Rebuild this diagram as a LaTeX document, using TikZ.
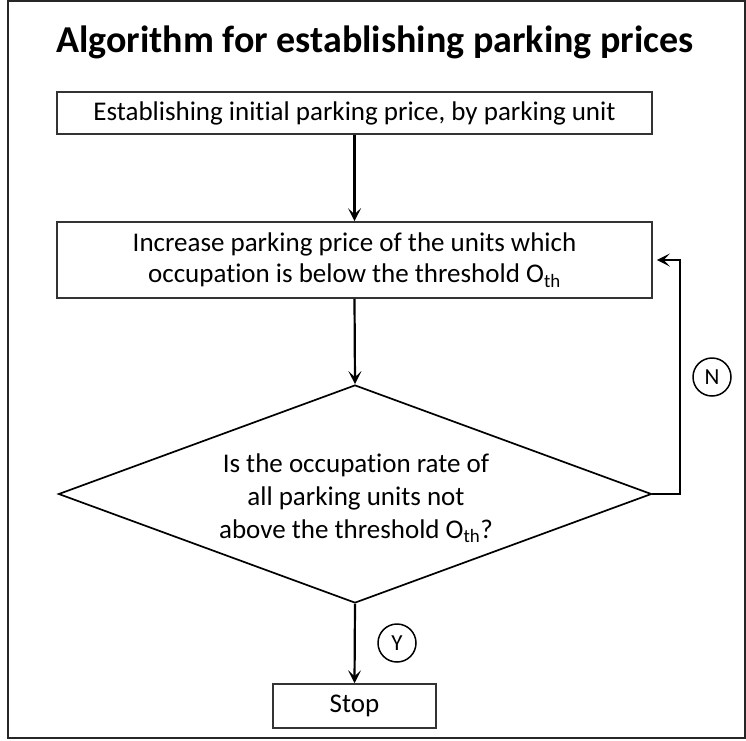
\documentclass[tikz,border=0pt]{standalone}
\usepackage{fontspec}
\setmainfont{Carlito}[Ligatures=NoCommon]
\usetikzlibrary{shapes.geometric,arrows.meta,calc}
\newcommand\Othr{O\textsubscript{th}}
\begin{document}
\begin{tikzpicture}[x=1pt,y=-1pt,
  procbox/.style={draw=black!80, line width=1.6pt, inner sep=0pt, font=\fontsize{27}{31}\selectfont, align=center},
  flowarrow/.style={line width=2.2pt, -{Stealth[length=13pt,width=13pt,inset=6pt]}},
  answer/.style={circle, draw, line width=1.5pt, minimum size=38pt, inner sep=0pt, font=\fontsize{23}{25}\selectfont},
  txt/.style={font=\fontsize{27}{33}\selectfont, align=center, inner sep=0pt}]
\useasboundingbox (0,0) rectangle (746,740);
\draw[line width=2.2pt, draw=black!85] (8.3,1.3) rectangle (744.7,738);
\node[anchor=base, font=\fontsize{38}{40}\selectfont\bfseries, inner sep=0pt] (title) at (375,52) {Algorithm for establishing parking prices};
\node[procbox, minimum width=595pt, minimum height=42pt] (init) at (354.5,113) {Establishing initial parking price, by parking unit};
\node[procbox, minimum width=595pt, minimum height=76pt] (incr) at (354.5,260) {Increase parking price of the units which\\occupation is below the threshold \Othr};
\node[diamond, draw, line width=1.7pt, minimum width=593pt, minimum height=218pt, inner sep=0pt] (dec) at (355,494) {};
\node[txt] (dectext) at (356,498) {Is the occupation rate of\\all parking units not\\above the threshold \Othr?};
\node[procbox, minimum width=163pt, minimum height=44pt] (stop) at (354.5,706) {Stop};
\node[answer] (no) at (712,377) {N};
\node[answer] (yes) at (397,643) {Y};
\draw[flowarrow] (init.south) -- (incr.north);
\draw[flowarrow] (incr.south) -- (dec.north);
\draw[flowarrow] (dec.south) -- (stop.north);
\draw[flowarrow] (dec.east) -- ++(28,0) |- ([xshift=4pt]incr.east);
\end{tikzpicture}
\end{document}
